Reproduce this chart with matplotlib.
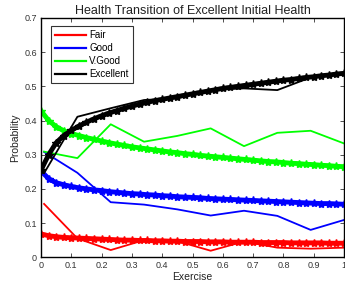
import numpy as np
import matplotlib
matplotlib.use('Agg')
import matplotlib.pyplot as plt

plt.rcParams['font.family'] = ['Liberation Sans', 'DejaVu Sans']

# raw observed transitions
x_raw = [0.01, 0.12, 0.23, 0.34, 0.45, 0.56, 0.67, 0.78, 0.89, 1.0]
fair_raw = [0.156, 0.055, 0.021, 0.050, 0.047, 0.019, 0.046, 0.028, 0.025, 0.028]
good_raw = [0.308, 0.247, 0.161, 0.154, 0.140, 0.122, 0.136, 0.121, 0.080, 0.109]
vgood_raw = [0.309, 0.290, 0.389, 0.338, 0.355, 0.377, 0.325, 0.364, 0.370, 0.333]
exc_raw = [0.246, 0.411, 0.436, 0.460, 0.465, 0.490, 0.494, 0.489, 0.526, 0.535]

# fitted curves
x_fit = [0.0, 0.025, 0.05, 0.075, 0.1, 0.125, 0.15, 0.175, 0.2, 0.225, 0.25,
         0.275, 0.3, 0.325, 0.35, 0.375, 0.4, 0.425, 0.45, 0.475, 0.5,
         0.525, 0.55, 0.575, 0.6, 0.625, 0.65, 0.675, 0.7, 0.725, 0.75,
         0.775, 0.8, 0.825, 0.85, 0.875, 0.9, 0.925, 0.95, 0.975, 1.0]
fair_fit = [0.068, 0.063, 0.060, 0.058, 0.057, 0.056, 0.055, 0.054, 0.053, 0.052, 0.051,
            0.050, 0.050, 0.049, 0.049, 0.048, 0.048, 0.047, 0.047, 0.046, 0.046,
            0.046, 0.045, 0.045, 0.045, 0.044, 0.044, 0.044, 0.044, 0.043, 0.043,
            0.043, 0.043, 0.042, 0.042, 0.042, 0.042, 0.042, 0.041, 0.041, 0.041]
good_fit = [0.252, 0.230, 0.218, 0.212, 0.207, 0.203, 0.200, 0.197, 0.195, 0.192, 0.190,
            0.188, 0.186, 0.185, 0.183, 0.182, 0.180, 0.179, 0.177, 0.176, 0.175,
            0.174, 0.172, 0.171, 0.170, 0.169, 0.168, 0.167, 0.166, 0.165, 0.164,
            0.163, 0.162, 0.161, 0.160, 0.159, 0.158, 0.157, 0.157, 0.156, 0.155]
vgood_fit = [0.428, 0.400, 0.382, 0.370, 0.362, 0.356, 0.350, 0.345, 0.340, 0.335, 0.331,
             0.327, 0.323, 0.320, 0.317, 0.314, 0.311, 0.308, 0.306, 0.303, 0.301,
             0.298, 0.296, 0.294, 0.292, 0.290, 0.288, 0.286, 0.284, 0.282, 0.280,
             0.279, 0.277, 0.275, 0.274, 0.272, 0.271, 0.269, 0.268, 0.266, 0.265]
exc_fit = [0.255, 0.300, 0.335, 0.356, 0.371, 0.384, 0.395, 0.405, 0.414, 0.422, 0.429,
           0.436, 0.442, 0.448, 0.453, 0.458, 0.462, 0.466, 0.470, 0.474, 0.478,
           0.482, 0.486, 0.490, 0.494, 0.497, 0.500, 0.503, 0.506, 0.509, 0.512,
           0.515, 0.518, 0.520, 0.523, 0.526, 0.528, 0.531, 0.533, 0.536, 0.538]

labels = ['Fair', 'Good', 'V.Good', 'Excellent']
colors = ['#ff0000', '#0000ff', '#00ff00', '#000000']

fig = plt.figure(figsize=(3.45, 2.9), dpi=100)
ax = fig.add_axes([0.119, 0.113, 0.878, 0.825])

raws = [fair_raw, good_raw, vgood_raw, exc_raw]
fits = [fair_fit, good_fit, vgood_fit, exc_fit]
for r, f, c, lab in zip(raws, fits, colors, labels):
    ax.plot(x_fit, f, '-*', color=c, lw=3.5, ms=6, mew=1)
    ax.plot(x_raw, r, '-', color=c, lw=1.3, label=lab)

ax.set_xlim(0, 1)
ax.set_ylim(0, 0.7)
ax.set_xticks(np.arange(0, 1.01, 0.1))
ax.set_xticklabels(['0', '0.1', '0.2', '0.3', '0.4', '0.5', '0.6', '0.7', '0.8', '0.9', '1'])
ax.set_yticks(np.arange(0, 0.71, 0.1))
ax.set_yticklabels(['0', '0.1', '0.2', '0.3', '0.4', '0.5', '0.6', '0.7'])
ax.tick_params(direction='in', top=True, right=True, labelsize=6.5, length=3, width=0.6, pad=3,
               colors='#333333', labelcolor='#333333')
for s in ax.spines.values():
    s.set_linewidth(1.0)

ax.set_title('Health Transition of Excellent Initial Health', fontsize=9, pad=3, color='#222222')
ax.set_xlabel('Exercise', fontsize=7.5, labelpad=1, color='#222222')
ax.set_ylabel('Probability', fontsize=7.5, labelpad=3, color='#222222')

leg = ax.legend(loc='upper left', fontsize=7, handlelength=3.2, frameon=True, fancybox=False,
                edgecolor='black', borderpad=0.4, labelspacing=0.3, handletextpad=0.3,
                bbox_to_anchor=(0.018, 0.985))
leg.get_frame().set_linewidth(0.8)
for h in leg.get_lines():
    h.set_linewidth(1.6)

fig.savefig('out.png', dpi=100)
